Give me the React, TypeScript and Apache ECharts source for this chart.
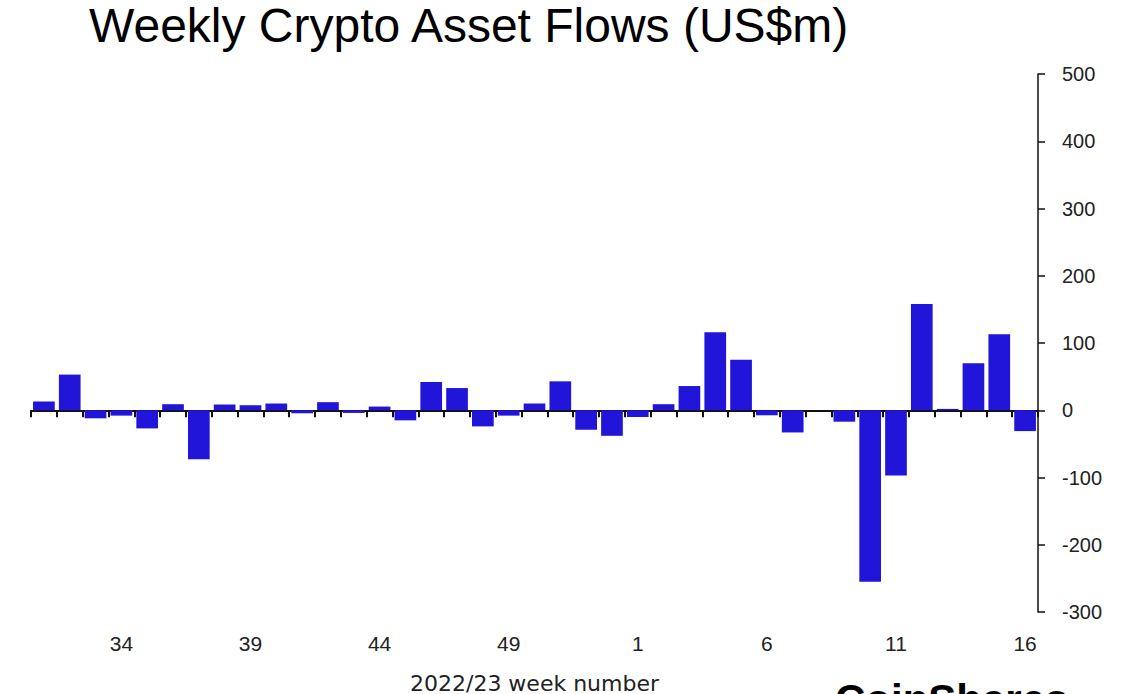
import React, { useEffect, useRef } from "react";
import * as echarts from "echarts";

const weeks: string[] = [
  "31", "32", "33", "34", "35", "36", "37", "38", "39", "40", "41", "42", "43",
  "44", "45", "46", "47", "48", "49", "50", "51", "52", "53",
  "1", "2", "3", "4", "5", "6", "7", "8", "9", "10", "11", "12", "13", "14", "15", "16",
];

const flows: number[] = [
  13, 53, -12, -8, -27, 9, -73, 8.5, 7.5, 10, -4.5, 12, -4,
  5.5, -15, 42, 33, -24, -8, 10, 43, -29, -38,
  -10, 9, 36, 116, 75, -7.5, -33, 0, -17, -255, -97, 158, 2, 70, 113, -31,
];

const yTicks = { min: -300, max: 500, interval: 100 };

const titleText = "Weekly Crypto Asset Flows (US$m)";
const xAxisName = "2022/23 week number";
const logoText = "CoinShares";

export default function App() {
  const ref = useRef<HTMLDivElement>(null);
  useEffect(() => {
    if (!ref.current) return;
    const chart = echarts.init(ref.current, null, { renderer: "svg" });
    const font = "'Liberation Sans', Arial, Helvetica, sans-serif";
    chart.setOption({
      animation: false,
      backgroundColor: "#ffffff",
      grid: {
        left: 31,
        right: 102,
        top: 74,
        bottom: 82,
        containLabel: false,
        outerBoundsMode: "none",
      },
      xAxis: [
        {
          type: "category",
          data: weeks,
          position: "bottom",
          axisLine: { show: true, onZero: true, lineStyle: { color: "#111", width: 2 } },
          axisTick: { show: true, interval: 0, length: 7, lineStyle: { color: "#111", width: 2 } },
          axisLabel: { show: false },
          splitLine: { show: false },
        },
        {
          type: "category",
          data: weeks,
          position: "bottom",
          axisLine: { show: false, onZero: false },
          axisTick: { show: false },
          axisLabel: {
            show: true,
            interval: (idx: number) => (idx - 3) % 5 === 0,
            margin: 21,
            fontSize: 21,
            fontFamily: font,
            color: "#222",
          },
          name: xAxisName,
          nameLocation: "middle",
          nameGap: 60,
          nameTextStyle: { fontSize: 22, fontFamily: "'DejaVu Sans', sans-serif", color: "#222" },
          splitLine: { show: false },
        },
      ],
      yAxis: {
        type: "value",
        position: "right",
        min: yTicks.min,
        max: yTicks.max,
        interval: yTicks.interval,
        axisLine: { show: true, onZero: false, lineStyle: { color: "#111", width: 1.5 } },
        axisTick: { show: true, length: 7, lineStyle: { color: "#111", width: 1.5 } },
        axisLabel: { margin: 24, fontSize: 20, fontFamily: font, color: "#222" },
        splitLine: { show: false },
      },
      series: [
        {
          type: "bar",
          xAxisIndex: 0,
          data: flows,
          barCategoryGap: "16%",
          itemStyle: { color: "#2015D8" },
        },
      ],
      graphic: [
        {
          type: "text",
          left: 89,
          top: 1,
          style: { text: titleText, font: `48px ${font}`, fill: "#000" },
        },
        {
          type: "text",
          left: 835,
          top: 678,
          style: { text: logoText, font: `bold 42px ${font}`, fill: "#000" },
        },
      ],
    });
    return () => chart.dispose();
  }, []);
  return (
    <div
      ref={ref}
      style={{ position: "absolute", left: 0, top: 0, width: 1140, height: 694, background: "#fff" }}
    />
  );
}
